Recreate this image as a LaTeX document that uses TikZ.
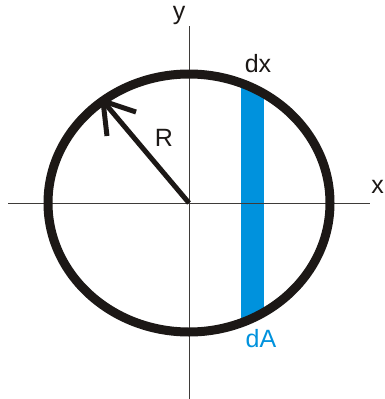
\documentclass[tikz,border=0pt]{standalone}
\usepackage{fontspec}
\setmainfont{Liberation Sans}
\definecolor{stripblue}{RGB}{0,146,221}
\definecolor{inkblack}{RGB}{28,24,22}
\tikzset{
  axis/.style={draw=inkblack!85, line width=0.9pt},
  rim/.style={draw=inkblack, line width=9pt},
  radius arrow/.style={draw=inkblack, line width=5pt},
  lbl/.style={font=\fontsize{25}{27}\selectfont, inner sep=0pt, text=inkblack},
  bluelbl/.style={font=\fontsize{25}{27}\selectfont, inner sep=0pt, text=stripblue}
}
\begin{document}
\begin{tikzpicture}[x=1pt,y=-1pt]
\useasboundingbox (0,0) rectangle (384,399);
% coordinates
\coordinate (O) at (189,203);
\coordinate (xl) at (8,203);
\coordinate (xr) at (370,203);
\coordinate (yt) at (189,26);
\coordinate (yb) at (189,399);
\coordinate (tip) at (103,101);
\coordinate (w1) at (136,112);
\coordinate (w2) at (107,136);
% blue strip clipped to ellipse
\begin{scope}
  \clip (O) ellipse [x radius=141, y radius=129];
  \fill[stripblue] (241,60) rectangle (264,345);
\end{scope}
% axes
\draw[axis] (xl) -- (xr);
\draw[axis] (yt) -- (yb);
% ellipse
\draw[rim] (O) ellipse [x radius=141, y radius=129];
% radius arrow
\draw[radius arrow] (O) -- (tip);
\draw[radius arrow, line cap=butt] (w1) -- (tip) -- (w2);
% labels
\node[lbl] (ylab) at (179,15) {y};
\node[lbl, anchor=east] (xlab) at (384,187) {x};
\node[lbl] (dx) at (258,64) {dx};
\node[lbl] (R) at (164,138) {R};
\node[bluelbl] (dA) at (261,339) {dA};
\end{tikzpicture}
\end{document}
